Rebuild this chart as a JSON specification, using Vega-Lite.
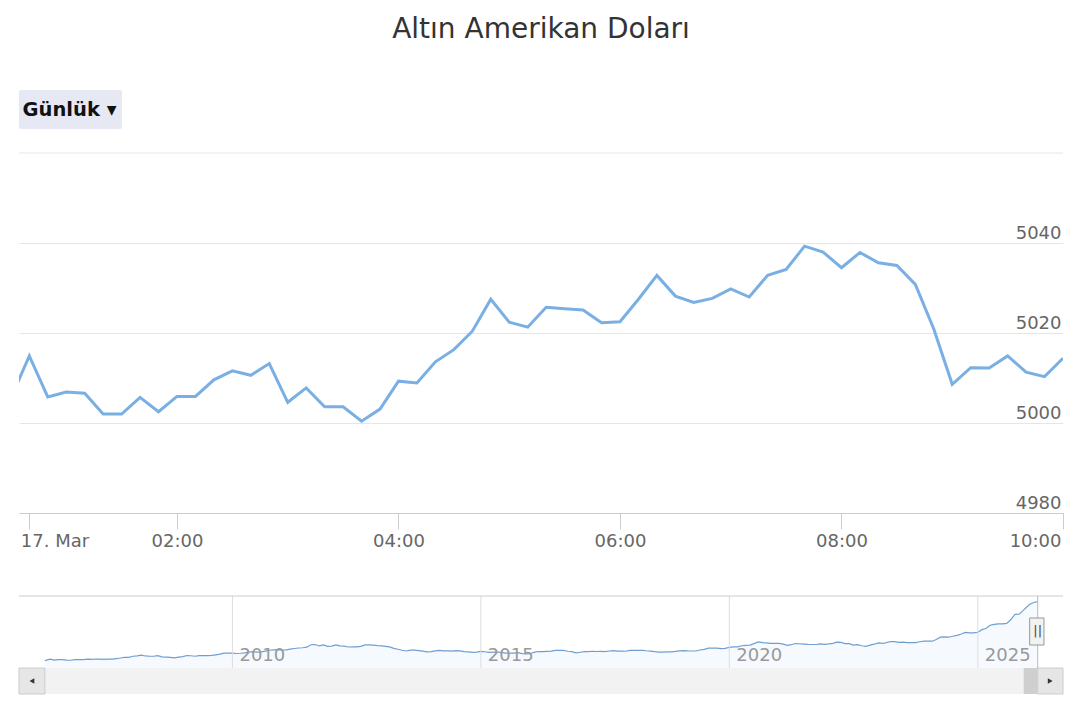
{
  "$schema": "https://vega.github.io/schema/vega-lite/v6.json",
  "background": "white",
  "padding": {"left": 18, "right": 18, "top": 16, "bottom": 10},
  "title": {"text": "Altın Amerikan Doları", "fontSize": 28, "font": "DejaVu Sans", "fontWeight": "normal", "color": "#333333", "anchor": "middle", "offset": 46},
  "config": {"view": {"stroke": null}, "font": "DejaVu Sans"},
  "datasets": {
    "intraday": [
      {"time": "2026-03-17T00:30:00", "price": 5005.5},
      {"time": "2026-03-17T00:40:00", "price": 5014.9},
      {"time": "2026-03-17T00:50:00", "price": 5005.8},
      {"time": "2026-03-17T01:00:00", "price": 5006.9},
      {"time": "2026-03-17T01:10:00", "price": 5006.6},
      {"time": "2026-03-17T01:20:00", "price": 5002.0},
      {"time": "2026-03-17T01:30:00", "price": 5002.0},
      {"time": "2026-03-17T01:40:00", "price": 5005.7},
      {"time": "2026-03-17T01:50:00", "price": 5002.5},
      {"time": "2026-03-17T02:00:00", "price": 5005.9},
      {"time": "2026-03-17T02:10:00", "price": 5005.9},
      {"time": "2026-03-17T02:20:00", "price": 5009.6},
      {"time": "2026-03-17T02:30:00", "price": 5011.6},
      {"time": "2026-03-17T02:40:00", "price": 5010.6},
      {"time": "2026-03-17T02:50:00", "price": 5013.2},
      {"time": "2026-03-17T03:00:00", "price": 5004.6},
      {"time": "2026-03-17T03:10:00", "price": 5007.8},
      {"time": "2026-03-17T03:20:00", "price": 5003.6},
      {"time": "2026-03-17T03:30:00", "price": 5003.6},
      {"time": "2026-03-17T03:40:00", "price": 5000.4},
      {"time": "2026-03-17T03:50:00", "price": 5003.1},
      {"time": "2026-03-17T04:00:00", "price": 5009.3},
      {"time": "2026-03-17T04:10:00", "price": 5008.9},
      {"time": "2026-03-17T04:20:00", "price": 5013.6},
      {"time": "2026-03-17T04:30:00", "price": 5016.3},
      {"time": "2026-03-17T04:40:00", "price": 5020.4},
      {"time": "2026-03-17T04:50:00", "price": 5027.5},
      {"time": "2026-03-17T05:00:00", "price": 5022.4},
      {"time": "2026-03-17T05:10:00", "price": 5021.3},
      {"time": "2026-03-17T05:20:00", "price": 5025.7},
      {"time": "2026-03-17T05:30:00", "price": 5025.4},
      {"time": "2026-03-17T05:40:00", "price": 5025.1},
      {"time": "2026-03-17T05:50:00", "price": 5022.3},
      {"time": "2026-03-17T06:00:00", "price": 5022.5},
      {"time": "2026-03-17T06:10:00", "price": 5027.5},
      {"time": "2026-03-17T06:20:00", "price": 5032.8},
      {"time": "2026-03-17T06:30:00", "price": 5028.2},
      {"time": "2026-03-17T06:40:00", "price": 5026.8},
      {"time": "2026-03-17T06:50:00", "price": 5027.7},
      {"time": "2026-03-17T07:00:00", "price": 5029.8},
      {"time": "2026-03-17T07:10:00", "price": 5028.0},
      {"time": "2026-03-17T07:20:00", "price": 5032.8},
      {"time": "2026-03-17T07:30:00", "price": 5034.1},
      {"time": "2026-03-17T07:40:00", "price": 5039.3},
      {"time": "2026-03-17T07:50:00", "price": 5038.0},
      {"time": "2026-03-17T08:00:00", "price": 5034.5},
      {"time": "2026-03-17T08:10:00", "price": 5037.9},
      {"time": "2026-03-17T08:20:00", "price": 5035.6},
      {"time": "2026-03-17T08:30:00", "price": 5035.0},
      {"time": "2026-03-17T08:40:00", "price": 5030.8},
      {"time": "2026-03-17T08:50:00", "price": 5020.9},
      {"time": "2026-03-17T09:00:00", "price": 5008.6},
      {"time": "2026-03-17T09:10:00", "price": 5012.3},
      {"time": "2026-03-17T09:20:00", "price": 5012.2},
      {"time": "2026-03-17T09:30:00", "price": 5014.9},
      {"time": "2026-03-17T09:40:00", "price": 5011.3},
      {"time": "2026-03-17T09:50:00", "price": 5010.3},
      {"time": "2026-03-17T10:00:00", "price": 5014.4}
    ],
    "gold": [
      {"date": "2006-03-24", "price": 560},
      {"date": "2006-05-01", "price": 676}, {"date": "2006-06-01", "price": 596}, {"date": "2006-07-01", "price": 633}, {"date": "2006-08-01", "price": 632}, {"date": "2006-09-01", "price": 598}, {"date": "2006-10-01", "price": 585}, {"date": "2006-11-01", "price": 627}, {"date": "2006-12-01", "price": 629},
      {"date": "2007-01-01", "price": 631}, {"date": "2007-02-01", "price": 665}, {"date": "2007-03-01", "price": 655}, {"date": "2007-04-01", "price": 679}, {"date": "2007-05-01", "price": 667}, {"date": "2007-06-01", "price": 655}, {"date": "2007-07-01", "price": 665}, {"date": "2007-08-01", "price": 665}, {"date": "2007-09-01", "price": 712}, {"date": "2007-10-01", "price": 754}, {"date": "2007-11-01", "price": 806}, {"date": "2007-12-01", "price": 803},
      {"date": "2008-01-01", "price": 889}, {"date": "2008-02-01", "price": 922}, {"date": "2008-03-01", "price": 968}, {"date": "2008-04-01", "price": 909}, {"date": "2008-05-01", "price": 888}, {"date": "2008-06-01", "price": 889}, {"date": "2008-07-01", "price": 939}, {"date": "2008-08-01", "price": 839}, {"date": "2008-09-01", "price": 829}, {"date": "2008-10-01", "price": 806}, {"date": "2008-11-01", "price": 760}, {"date": "2008-12-01", "price": 816},
      {"date": "2009-01-01", "price": 858}, {"date": "2009-02-01", "price": 943}, {"date": "2009-03-01", "price": 924}, {"date": "2009-04-01", "price": 890}, {"date": "2009-05-01", "price": 928}, {"date": "2009-06-01", "price": 946}, {"date": "2009-07-01", "price": 934}, {"date": "2009-08-01", "price": 949}, {"date": "2009-09-01", "price": 996}, {"date": "2009-10-01", "price": 1043}, {"date": "2009-11-01", "price": 1127}, {"date": "2009-12-01", "price": 1134},
      {"date": "2010-01-01", "price": 1118}, {"date": "2010-02-01", "price": 1095}, {"date": "2010-03-01", "price": 1113}, {"date": "2010-04-01", "price": 1148}, {"date": "2010-05-01", "price": 1205}, {"date": "2010-06-01", "price": 1232}, {"date": "2010-07-01", "price": 1193}, {"date": "2010-08-01", "price": 1215}, {"date": "2010-09-01", "price": 1271}, {"date": "2010-10-01", "price": 1342}, {"date": "2010-11-01", "price": 1370}, {"date": "2010-12-01", "price": 1391},
      {"date": "2011-01-01", "price": 1356}, {"date": "2011-02-01", "price": 1372}, {"date": "2011-03-01", "price": 1424}, {"date": "2011-04-01", "price": 1473}, {"date": "2011-05-01", "price": 1510}, {"date": "2011-06-01", "price": 1529}, {"date": "2011-07-01", "price": 1572}, {"date": "2011-08-01", "price": 1756}, {"date": "2011-09-01", "price": 1772}, {"date": "2011-10-01", "price": 1666}, {"date": "2011-11-01", "price": 1739}, {"date": "2011-12-01", "price": 1640},
      {"date": "2012-01-01", "price": 1654}, {"date": "2012-02-01", "price": 1743}, {"date": "2012-03-01", "price": 1675}, {"date": "2012-04-01", "price": 1649}, {"date": "2012-05-01", "price": 1586}, {"date": "2012-06-01", "price": 1596}, {"date": "2012-07-01", "price": 1594}, {"date": "2012-08-01", "price": 1630}, {"date": "2012-09-01", "price": 1745}, {"date": "2012-10-01", "price": 1747}, {"date": "2012-11-01", "price": 1722}, {"date": "2012-12-01", "price": 1684},
      {"date": "2013-01-01", "price": 1671}, {"date": "2013-02-01", "price": 1627}, {"date": "2013-03-01", "price": 1593}, {"date": "2013-04-01", "price": 1485}, {"date": "2013-05-01", "price": 1414}, {"date": "2013-06-01", "price": 1343}, {"date": "2013-07-01", "price": 1286}, {"date": "2013-08-01", "price": 1347}, {"date": "2013-09-01", "price": 1349}, {"date": "2013-10-01", "price": 1316}, {"date": "2013-11-01", "price": 1275}, {"date": "2013-12-01", "price": 1222},
      {"date": "2014-01-01", "price": 1244}, {"date": "2014-02-01", "price": 1300}, {"date": "2014-03-01", "price": 1337}, {"date": "2014-04-01", "price": 1299}, {"date": "2014-05-01", "price": 1287}, {"date": "2014-06-01", "price": 1279}, {"date": "2014-07-01", "price": 1311}, {"date": "2014-08-01", "price": 1296}, {"date": "2014-09-01", "price": 1239}, {"date": "2014-10-01", "price": 1222}, {"date": "2014-11-01", "price": 1176}, {"date": "2014-12-01", "price": 1200},
      {"date": "2015-01-01", "price": 1251}, {"date": "2015-02-01", "price": 1227}, {"date": "2015-03-01", "price": 1179}, {"date": "2015-04-01", "price": 1198}, {"date": "2015-05-01", "price": 1199}, {"date": "2015-06-01", "price": 1181}, {"date": "2015-07-01", "price": 1128}, {"date": "2015-08-01", "price": 1117}, {"date": "2015-09-01", "price": 1125}, {"date": "2015-10-01", "price": 1156}, {"date": "2015-11-01", "price": 1086}, {"date": "2015-12-01", "price": 1068},
      {"date": "2016-01-01", "price": 1097}, {"date": "2016-02-01", "price": 1199}, {"date": "2016-03-01", "price": 1246}, {"date": "2016-04-01", "price": 1242}, {"date": "2016-05-01", "price": 1260}, {"date": "2016-06-01", "price": 1276}, {"date": "2016-07-01", "price": 1337}, {"date": "2016-08-01", "price": 1341}, {"date": "2016-09-01", "price": 1326}, {"date": "2016-10-01", "price": 1267}, {"date": "2016-11-01", "price": 1238}, {"date": "2016-12-01", "price": 1151},
      {"date": "2017-01-01", "price": 1192}, {"date": "2017-02-01", "price": 1234}, {"date": "2017-03-01", "price": 1231}, {"date": "2017-04-01", "price": 1267}, {"date": "2017-05-01", "price": 1246}, {"date": "2017-06-01", "price": 1260}, {"date": "2017-07-01", "price": 1237}, {"date": "2017-08-01", "price": 1283}, {"date": "2017-09-01", "price": 1315}, {"date": "2017-10-01", "price": 1280}, {"date": "2017-11-01", "price": 1283}, {"date": "2017-12-01", "price": 1265},
      {"date": "2018-01-01", "price": 1331}, {"date": "2018-02-01", "price": 1331}, {"date": "2018-03-01", "price": 1325}, {"date": "2018-04-01", "price": 1335}, {"date": "2018-05-01", "price": 1304}, {"date": "2018-06-01", "price": 1281}, {"date": "2018-07-01", "price": 1238}, {"date": "2018-08-01", "price": 1202}, {"date": "2018-09-01", "price": 1199}, {"date": "2018-10-01", "price": 1215}, {"date": "2018-11-01", "price": 1220}, {"date": "2018-12-01", "price": 1250},
      {"date": "2019-01-01", "price": 1291}, {"date": "2019-02-01", "price": 1320}, {"date": "2019-03-01", "price": 1300}, {"date": "2019-04-01", "price": 1286}, {"date": "2019-05-01", "price": 1284}, {"date": "2019-06-01", "price": 1359}, {"date": "2019-07-01", "price": 1413}, {"date": "2019-08-01", "price": 1500}, {"date": "2019-09-01", "price": 1510}, {"date": "2019-10-01", "price": 1495}, {"date": "2019-11-01", "price": 1471}, {"date": "2019-12-01", "price": 1480},
      {"date": "2020-01-01", "price": 1560}, {"date": "2020-02-01", "price": 1597}, {"date": "2020-03-01", "price": 1591}, {"date": "2020-04-01", "price": 1683}, {"date": "2020-05-01", "price": 1715}, {"date": "2020-06-01", "price": 1732}, {"date": "2020-07-01", "price": 1846}, {"date": "2020-08-01", "price": 1968}, {"date": "2020-09-01", "price": 1921}, {"date": "2020-10-01", "price": 1900}, {"date": "2020-11-01", "price": 1866}, {"date": "2020-12-01", "price": 1858},
      {"date": "2021-01-01", "price": 1867}, {"date": "2021-02-01", "price": 1808}, {"date": "2021-03-01", "price": 1718}, {"date": "2021-04-01", "price": 1760}, {"date": "2021-05-01", "price": 1850}, {"date": "2021-06-01", "price": 1834}, {"date": "2021-07-01", "price": 1807}, {"date": "2021-08-01", "price": 1785}, {"date": "2021-09-01", "price": 1775}, {"date": "2021-10-01", "price": 1777}, {"date": "2021-11-01", "price": 1821}, {"date": "2021-12-01", "price": 1790},
      {"date": "2022-01-01", "price": 1817}, {"date": "2022-02-01", "price": 1856}, {"date": "2022-03-01", "price": 1948}, {"date": "2022-04-01", "price": 1937}, {"date": "2022-05-01", "price": 1849}, {"date": "2022-06-01", "price": 1837}, {"date": "2022-07-01", "price": 1732}, {"date": "2022-08-01", "price": 1765}, {"date": "2022-09-01", "price": 1681}, {"date": "2022-10-01", "price": 1640}, {"date": "2022-11-01", "price": 1726}, {"date": "2022-12-01", "price": 1798},
      {"date": "2023-01-01", "price": 1898}, {"date": "2023-02-01", "price": 1854}, {"date": "2023-03-01", "price": 1912}, {"date": "2023-04-01", "price": 2000}, {"date": "2023-05-01", "price": 1992}, {"date": "2023-06-01", "price": 1943}, {"date": "2023-07-01", "price": 1951}, {"date": "2023-08-01", "price": 1918}, {"date": "2023-09-01", "price": 1916}, {"date": "2023-10-01", "price": 1916}, {"date": "2023-11-01", "price": 1985}, {"date": "2023-12-01", "price": 2031},
      {"date": "2024-01-01", "price": 2034}, {"date": "2024-02-01", "price": 2024}, {"date": "2024-03-01", "price": 2159}, {"date": "2024-04-01", "price": 2331}, {"date": "2024-05-01", "price": 2348}, {"date": "2024-06-01", "price": 2326}, {"date": "2024-07-01", "price": 2399}, {"date": "2024-08-01", "price": 2470}, {"date": "2024-09-01", "price": 2570}, {"date": "2024-10-01", "price": 2690}, {"date": "2024-11-01", "price": 2650}, {"date": "2024-12-01", "price": 2650},
      {"date": "2025-01-01", "price": 2700}, {"date": "2025-02-01", "price": 2900}, {"date": "2025-03-01", "price": 2985}, {"date": "2025-04-01", "price": 3230}, {"date": "2025-05-01", "price": 3300}, {"date": "2025-06-01", "price": 3340}, {"date": "2025-07-01", "price": 3340}, {"date": "2025-08-01", "price": 3370}, {"date": "2025-09-01", "price": 3660}, {"date": "2025-10-01", "price": 4050}, {"date": "2025-11-01", "price": 4070}, {"date": "2025-12-01", "price": 4350},
      {"date": "2026-01-15", "price": 4800}, {"date": "2026-02-15", "price": 4950}, {"date": "2026-03-17", "price": 5014}
    ],
    "years": [
      {"date": "2010-01-01", "label": "2010"},
      {"date": "2015-01-01", "label": "2015"},
      {"date": "2020-01-01", "label": "2020"},
      {"date": "2025-01-01", "label": "2025"}
    ]
  },
  "spacing": 45,
  "vconcat": [
    {
      "spacing": 23,
      "vconcat": [
        {
          "width": 103,
          "height": 39,
          "view": {"fill": "#e6e9f4", "stroke": null, "cornerRadius": 2},
          "data": {"values": [{"label": "Günlük ▾"}]},
          "mark": {"type": "text", "fontSize": 19.5, "fontWeight": "bold", "color": "#111111", "font": "DejaVu Sans", "baseline": "middle", "align": "center", "dx": -1},
          "encoding": {"text": {"field": "label"}}
        },
        {
          "width": 1044,
          "height": 360,
          "layer": [
            {
              "data": {"name": "intraday"},
              "mark": {"type": "line", "color": "#79afe3", "strokeWidth": 3, "clip": true},
              "encoding": {
                "x": {
                  "field": "time",
                  "type": "temporal",
                  "scale": {"domain": [{"year": 2026, "month": 3, "date": 17, "hours": 0, "minutes": 34, "seconds": 25}, {"year": 2026, "month": 3, "date": 17, "hours": 10}], "nice": false},
                  "axis": {
                    "title": null,
                    "values": [
                      {"year": 2026, "month": 3, "date": 17, "hours": 0, "minutes": 40},
                      {"year": 2026, "month": 3, "date": 17, "hours": 2},
                      {"year": 2026, "month": 3, "date": 17, "hours": 4},
                      {"year": 2026, "month": 3, "date": 17, "hours": 6},
                      {"year": 2026, "month": 3, "date": 17, "hours": 8},
                      {"year": 2026, "month": 3, "date": 17, "hours": 10}
                    ],
                    "labelExpr": "hours(datum.value) == 0 ? '17. Mar' : timeFormat(datum.value, '%H:%M')",
                    "grid": false,
                    "domain": true,
                    "domainColor": "#cccccc",
                    "ticks": true,
                    "tickColor": "#cccccc",
                    "tickSize": 16,
                    "labelPadding": 3,
                    "labelFontSize": 18,
                    "labelColor": "#666666",
                    "labelFont": "DejaVu Sans",
                    "labelFlush": 15,
                    "labelOffset": {"condition": [{"test": "hours(datum.value) == 0", "value": -9}, {"test": "hours(datum.value) == 10", "value": -2}], "value": 0},
                    "labelOverlap": false
                  }
                },
                "y": {
                  "field": "price",
                  "type": "quantitative",
                  "scale": {"domain": [4980, 5060], "zero": false, "nice": false},
                  "axis": {
                    "orient": "right",
                    "title": null,
                    "values": [4980, 5000, 5020, 5040],
                    "format": "d",
                    "domain": false,
                    "ticks": false,
                    "tickSize": 0,
                    "grid": true,
                    "gridColor": "#e6e6e6",
                    "labelAlign": "right",
                    "labelBaseline": "alphabetic",
                    "labelPadding": -2,
                    "labelOffset": -5,
                    "labelFontSize": 18,
                    "labelColor": "#666666",
                    "labelFont": "DejaVu Sans",
                    "labelOverlap": false
                  }
                }
              }
            },
            {
              "data": {"values": [{}]},
              "mark": {"type": "rule", "color": "#e6e6e6", "strokeWidth": 1},
              "encoding": {
                "y": {"datum": 5060, "type": "quantitative"}
              }
            }
          ]
        }
      ]
    },
    {
      "width": 1044,
      "height": 98,
      "layer": [
        {
          "data": {"values": [{}]},
          "mark": {"type": "rect", "color": "#f2f2f2"},
          "encoding": {
            "y": {"datum": -1964, "type": "quantitative", "axis": null, "scale": {"domain": [-1964, 5440], "nice": false, "zero": false}},
            "y2": {"datum": 0}
          }
        },
        {
          "data": {"name": "gold"},
          "mark": {"type": "area", "color": "#7cb5ec", "fillOpacity": 0.07, "line": {"color": "#6f9fd2", "strokeWidth": 1.2}},
          "encoding": {
            "x": {"field": "date", "type": "temporal", "axis": null, "scale": {"domain": [{"year": 2005, "month": 9, "date": 15}, {"year": 2026, "month": 9, "date": 19}], "nice": false}},
            "y": {"field": "price", "type": "quantitative", "axis": null},
            "y2": {"datum": 0}
          }
        },
        {
          "data": {"name": "years"},
          "mark": {"type": "rule", "color": "#dddddd", "strokeWidth": 1},
          "encoding": {
            "x": {"field": "date", "type": "temporal", "axis": null},
            "y": {"datum": 0, "type": "quantitative", "axis": null},
            "y2": {"datum": 5440}
          }
        },
        {
          "data": {"name": "years"},
          "mark": {"type": "text", "align": "left", "baseline": "alphabetic", "dx": 7, "fontSize": 18, "color": "#999999", "font": "DejaVu Sans"},
          "encoding": {
            "x": {"field": "date", "type": "temporal", "axis": null},
            "y": {"datum": 552, "type": "quantitative", "axis": null},
            "text": {"field": "label"}
          }
        },
        {
          "data": {"values": [{}]},
          "mark": {"type": "rule", "color": "#cccccc", "strokeWidth": 1},
          "encoding": {
            "y": {"datum": 5440, "type": "quantitative", "axis": null}
          }
        },
        {
          "data": {"values": [{}]},
          "mark": {"type": "rect", "color": "#e6e6e6", "stroke": "#cccccc", "strokeWidth": 1},
          "encoding": {
            "x": {"datum": {"year": 2005, "month": 9, "date": 15}, "type": "temporal", "axis": null},
            "x2": {"datum": {"year": 2006, "month": 3, "date": 24}},
            "y": {"datum": -1964, "type": "quantitative", "axis": null},
            "y2": {"datum": 0}
          }
        },
        {
          "data": {"values": [{}]},
          "mark": {"type": "rect", "color": "#cfcfcf"},
          "encoding": {
            "x": {"datum": {"year": 2025, "month": 12, "date": 4}, "type": "temporal", "axis": null},
            "x2": {"datum": {"year": 2026, "month": 3, "date": 17}},
            "y": {"datum": -1964, "type": "quantitative", "axis": null},
            "y2": {"datum": 0}
          }
        },
        {
          "data": {"values": [{}]},
          "mark": {"type": "rect", "color": "#e6e6e6", "stroke": "#cccccc", "strokeWidth": 1},
          "encoding": {
            "x": {"datum": {"year": 2026, "month": 3, "date": 17}, "type": "temporal", "axis": null},
            "x2": {"datum": {"year": 2026, "month": 9, "date": 19}},
            "y": {"datum": -1964, "type": "quantitative", "axis": null},
            "y2": {"datum": 0}
          }
        },
        {
          "data": {"values": [{}]},
          "mark": {"type": "point", "shape": "triangle-left", "filled": true, "color": "#333333", "size": 30, "opacity": 1},
          "encoding": {
            "x": {"datum": {"year": 2005, "month": 12, "date": 19}, "type": "temporal", "axis": null},
            "y": {"datum": -982, "type": "quantitative", "axis": null}
          }
        },
        {
          "data": {"values": [{}]},
          "mark": {"type": "point", "shape": "triangle-right", "filled": true, "color": "#333333", "size": 30, "opacity": 1},
          "encoding": {
            "x": {"datum": {"year": 2026, "month": 6, "date": 17}, "type": "temporal", "axis": null},
            "y": {"datum": -982, "type": "quantitative", "axis": null}
          }
        },
        {
          "data": {"values": [{}]},
          "mark": {"type": "rule", "color": "#bbbbbb", "strokeWidth": 1},
          "encoding": {
            "x": {"datum": {"year": 2026, "month": 3, "date": 17}, "type": "temporal", "axis": null},
            "y": {"datum": 0, "type": "quantitative", "axis": null},
            "y2": {"datum": 5440}
          }
        },
        {
          "data": {"values": [{}]},
          "mark": {"type": "rect", "color": "#f2f2f2", "stroke": "#999999", "strokeWidth": 1},
          "encoding": {
            "x": {"datum": {"year": 2026, "month": 1, "date": 17}, "type": "temporal", "axis": null},
            "x2": {"datum": {"year": 2026, "month": 5, "date": 2}},
            "y": {"datum": 1738, "type": "quantitative", "axis": null},
            "y2": {"datum": 3778}
          }
        },
        {
          "data": {"values": [{"grip": "||"}]},
          "mark": {"type": "text", "fontSize": 13, "color": "#444444", "align": "center", "baseline": "middle", "font": "DejaVu Sans"},
          "encoding": {
            "x": {"datum": {"year": 2026, "month": 3, "date": 17}, "type": "temporal", "axis": null},
            "y": {"datum": 2758, "type": "quantitative", "axis": null},
            "text": {"field": "grip"}
          }
        }
      ]
    }
  ]
}
